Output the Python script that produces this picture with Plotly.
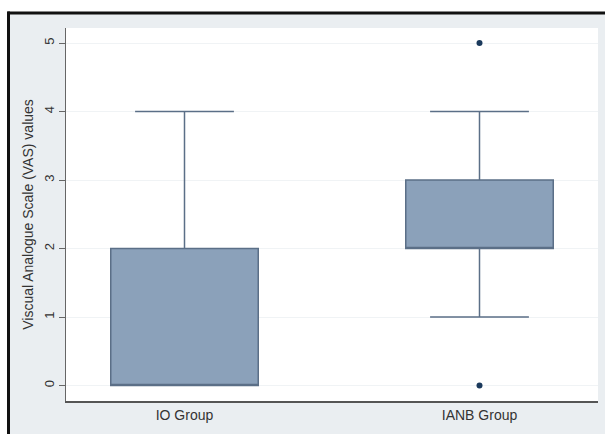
import plotly.graph_objects as go

# Summary statistics of the VAS scores per group
groups = ["IO Group", "IANB Group"]
q1 = [0, 2]
median = [0, 2]
q3 = [2, 3]
lower_fence = [0, 1]
upper_fence = [4, 4]

# Values lying beyond the whiskers
outlier_group = ["IANB Group", "IANB Group"]
outlier_value = [5, 0]

y_ticks = [0, 1, 2, 3, 4, 5]

W, H = 605, 434
L, R, T, B = 66, 7, 28, 33

fig = go.Figure()
fig.add_trace(go.Box(
    x=groups, q1=q1, median=median, q3=q3,
    lowerfence=lower_fence, upperfence=upper_fence,
    width=0.5, whiskerwidth=0.67,
    fillcolor="#8ba1ba",
    line=dict(color="#5b6f87", width=1.5),
    boxpoints=False, showlegend=False, hoverinfo="skip",
))
fig.add_trace(go.Scatter(
    x=outlier_group, y=outlier_value, mode="markers",
    marker=dict(color="#1b3a5c", size=6),
    showlegend=False, hoverinfo="skip",
))


def px_x(p):
    return (p - L) / (W - L - R)


def px_y(p):
    return 1 - (p - T) / (H - T - B)


# White strips above and left of the framed grey panel, plus the frame lines
fig.add_shape(type="rect", xref="paper", yref="paper",
              x0=px_x(-5), y0=px_y(-5), x1=px_x(W + 5), y1=px_y(12),
              fillcolor="white", line=dict(width=0), layer="below")
fig.add_shape(type="rect", xref="paper", yref="paper",
              x0=px_x(-5), y0=px_y(H + 5), x1=px_x(7), y1=px_y(-5),
              fillcolor="white", line=dict(width=0), layer="below")
fig.add_shape(type="line", xref="paper", yref="paper",
              x0=px_x(7.5), y0=px_y(13), x1=px_x(W + 5), y1=px_y(13),
              line=dict(color="#111111", width=3))
fig.add_shape(type="line", xref="paper", yref="paper",
              x0=px_x(8.5), y0=px_y(11.5), x1=px_x(8.5), y1=px_y(H + 5),
              line=dict(color="#111111", width=3))

fig.update_layout(
    width=W, height=H,
    margin=dict(l=L, r=R, t=T, b=B, pad=0),
    paper_bgcolor="#eaeef1", plot_bgcolor="white",
    font=dict(family="Liberation Sans, Arial, sans-serif", color="#333333"),
    xaxis=dict(
        type="category", range=[-0.4017, 1.4017],
        showline=True, linecolor="#555555", linewidth=1.5,
        ticks="", showgrid=False, zeroline=False,
        tickfont=dict(size=14, color="#333333"),
    ),
    yaxis=dict(
        range=[-0.226, 5.219], tickvals=y_ticks,
        tickangle=-90,
        showline=True, linecolor="#666666", linewidth=1,
        ticks="outside", ticklen=6, tickcolor="#666666",
        showgrid=True, gridcolor="#f0f3f5", gridwidth=1,
        zeroline=False,
        tickfont=dict(size=13, color="#333333"),
        title=dict(text="Viscual Analogue Scale (VAS) values",
                   font=dict(size=14, color="#333333"), standoff=4),
    ),
)

fig.write_html("out.html")
